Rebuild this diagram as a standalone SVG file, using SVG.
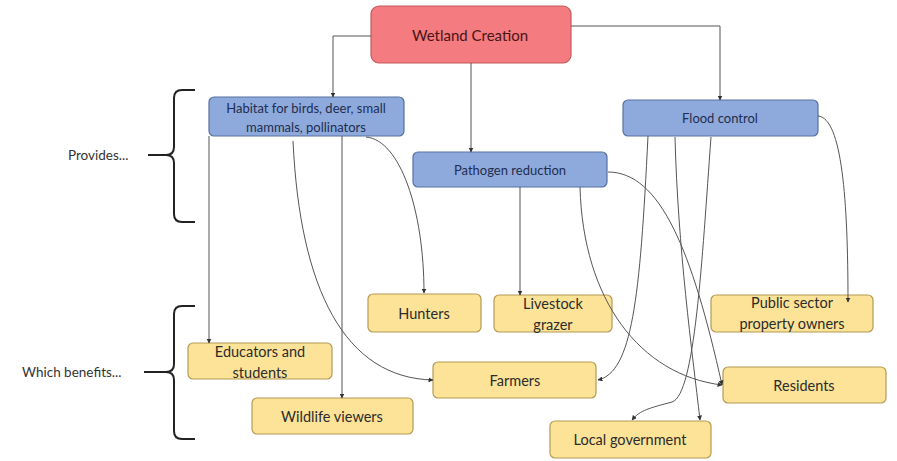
<svg xmlns="http://www.w3.org/2000/svg" width="897" height="461" viewBox="0 0 897 461">
<defs>
<marker id="ah" viewBox="0 0 10 10" refX="9" refY="5" markerWidth="5" markerHeight="5" orient="auto" markerUnits="userSpaceOnUse">
<path d="M0,0 L10,5 L0,10 z" fill="#333"/>
</marker>
<style>
.red{fill:#f47b7f;stroke:#c45a5c;stroke-width:1.2}
.blue{fill:#8eaadc;stroke:#5670a0;stroke-width:1.2}
.yel{fill:#fde397;stroke:#b49a55;stroke-width:1.2}
.t{font-family:Lato,"Liberation Sans",sans-serif;text-anchor:middle;dominant-baseline:central}
.tr{fill:#4a1414;font-size:15px}
.tb{fill:#1f2d4f;font-size:13px}
.ty{fill:#2b2b2b;font-size:14.5px}
.lab{font-family:Lato,"Liberation Sans",sans-serif;fill:#333;font-size:13.5px;dominant-baseline:central}
.c{fill:none;stroke:#555;stroke-width:1;marker-end:url(#ah)}
.br{fill:none;stroke:#222;stroke-width:2}
</style>
</defs>
<rect width="897" height="461" fill="#fff"/>

<g id="brackets">
<path class="br" d="M195,90 H182 Q174,90 174,98 V147 Q174,155 166,155 Q174,155 174,163 V214 Q174,222 182,222 H195"/>
<path class="br" d="M148,155 H166"/>
<text class="lab" x="68" y="155">Provides...</text>
<path class="br" d="M195,306 H182 Q174,306 174,314 V364 Q174,372 166,372 Q174,372 174,380 V431 Q174,439 182,439 H195"/>
<path class="br" d="M144,372 H166"/>
<text class="lab" x="22" y="372">Which benefits...</text>
</g>

<g id="wetland"><rect class="red" x="371" y="6" width="200" height="57" rx="8"/><text class="t tr" x="470" y="35">Wetland Creation</text></g>
<g id="habitat"><rect class="blue" x="209" y="97" width="195" height="39" rx="5"/><text class="t tb" x="306" y="108">Habitat for birds, deer, small</text><text class="t tb" x="306" y="127">mammals, pollinators</text></g>
<g id="pathogen"><rect class="blue" x="413" y="152" width="194" height="35" rx="5"/><text class="t tb" x="510" y="170">Pathogen reduction</text></g>
<g id="flood"><rect class="blue" x="623" y="100" width="195" height="36" rx="5"/><text class="t tb" x="720" y="118">Flood control</text></g>

<g id="hunters"><rect class="yel" x="368" y="294" width="113" height="38" rx="5"/><text class="t ty" x="424" y="313">Hunters</text></g>
<g id="livestock"><rect class="yel" x="494" y="295" width="118" height="37" rx="5"/><text class="t ty" x="553" y="303">Livestock</text><text class="t ty" x="553" y="324">grazer</text></g>
<g id="public"><rect class="yel" x="711" y="295" width="162" height="37" rx="5"/><text class="t ty" x="792" y="302">Public sector</text><text class="t ty" x="792" y="323">property owners</text></g>
<g id="educators"><rect class="yel" x="188" y="343" width="144" height="36" rx="5"/><text class="t ty" x="260" y="351">Educators and</text><text class="t ty" x="260" y="372">students</text></g>
<g id="farmers"><rect class="yel" x="433" y="362" width="163" height="36" rx="5"/><text class="t ty" x="515" y="380">Farmers</text></g>
<g id="residents"><rect class="yel" x="723" y="367" width="163" height="36" rx="5"/><text class="t ty" x="804" y="385">Residents</text></g>
<g id="wildlife"><rect class="yel" x="252" y="398" width="161" height="36" rx="5"/><text class="t ty" x="332" y="416">Wildlife viewers</text></g>
<g id="localgov"><rect class="yel" x="550" y="421" width="161" height="37" rx="5"/><text class="t ty" x="630" y="439">Local government</text></g>

<g id="connectors">
<path class="c" d="M371,36 H333 V97"/>
<path class="c" d="M471,63 V152"/>
<path class="c" d="M571,26 H720 V100"/>
<path class="c" d="M209,136 V343"/>
<path class="c" d="M342,136 V398"/>
<path class="c" d="M293,141 C300,290 345,378 433,380"/>
<path class="c" d="M366,137 C400,140 424,210 424,293"/>
<path class="c" d="M520,187 V295"/>
<path class="c" d="M580,187 C583,300 640,375 722,385"/>
<path class="c" d="M608,172 C660,172 692,250 722,385"/>
<path class="c" d="M648,136 C640,300 632,372 598,380"/>
<path class="c" d="M675,137 C678,250 692,350 700,420"/>
<path class="c" d="M711,137 C702,260 695,395 672,402 C650,408 640,410 632,420"/>
<path class="c" d="M818,116 C842,118 848,200 848,302"/>
</g>
</svg>
